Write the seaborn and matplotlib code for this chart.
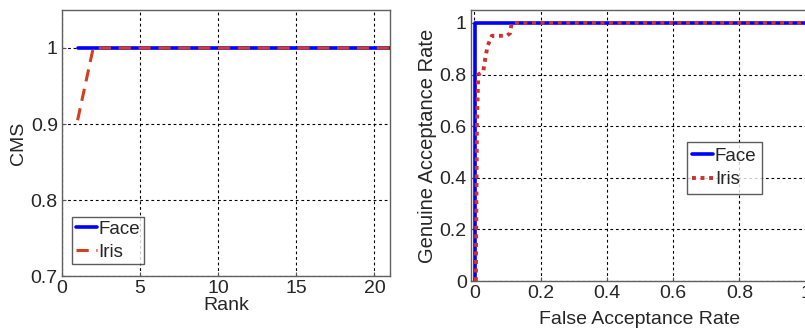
import numpy as np
import pandas as pd
import matplotlib
matplotlib.use("Agg")
import matplotlib.pyplot as plt
import seaborn as sns

# CMS curve (left)
rank = [1, 2, 3, 4, 5, 6, 7, 8, 9, 10, 11, 12, 13, 14, 15, 16, 17, 18, 19, 20, 21]
face_cms = [1.0, 1.0, 1.0, 1.0, 1.0, 1.0, 1.0, 1.0, 1.0, 1.0, 1.0,
            1.0, 1.0, 1.0, 1.0, 1.0, 1.0, 1.0, 1.0, 1.0, 1.0]
iris_cms = [0.905, 1.0, 1.0, 1.0, 1.0, 1.0, 1.0, 1.0, 1.0, 1.0, 1.0,
            1.0, 1.0, 1.0, 1.0, 1.0, 1.0, 1.0, 1.0, 1.0, 1.0]

# ROC curve (right)
face_far = [0.002, 0.002, 1.0]
face_gar = [0.0, 1.0, 1.0]
iris_far = [0.005, 0.008, 0.012, 0.027, 0.033, 0.040, 0.053, 0.098, 0.108, 0.113, 1.0]
iris_gar = [0.0, 0.60, 0.80, 0.81, 0.86, 0.91, 0.95, 0.95, 0.96, 1.0, 1.0]

BLUE = "#0000ff"
RED = "#d2401f"
RED2 = "#d03030"

sns.set_style("ticks")
plt.rcParams['font.family'] = ['Liberation Sans', 'DejaVu Sans']

fig = plt.figure(figsize=(8.05, 3.33), dpi=100)
ax1 = fig.add_axes([0.077, 0.171, 0.4075, 0.799])
ax2 = fig.add_axes([0.585, 0.156, 0.42, 0.814])

grid_kw = dict(color="black", linestyle=(0, (2.5, 2.5)), linewidth=0.8)

# left panel
sns.lineplot(x=rank, y=face_cms, ax=ax1, color=BLUE, lw=2.6, label="Face",
             estimator=None, sort=False)
sns.lineplot(x=rank, y=iris_cms, ax=ax1, color=RED, lw=2.2, label="Iris",
             estimator=None, sort=False, linestyle=(0, (4, 2.5)))
ax1.set_xlim(0, 21)
ax1.set_ylim(0.7, 1.05)
ax1.set_xticks([0, 5, 10, 15, 20])
ax1.set_yticks([0.7, 0.8, 0.9, 1.0])
ax1.set_yticklabels(["0.7", "0.8", "0.9", "1"])
ax1.set_xlabel("Rank", fontsize=14, labelpad=0)
ax1.set_ylabel("CMS", fontsize=14, labelpad=3)
ax1.grid(True, **grid_kw)
leg1 = ax1.legend(loc="lower left", bbox_to_anchor=(0.02, 0.03), fontsize=13.5,
                  handlelength=1.1, handletextpad=0.1, borderpad=0.2,
                  labelspacing=0.3, borderaxespad=0.2, frameon=True, fancybox=False)
leg1.get_frame().set_edgecolor("#333333")
leg1.get_frame().set_linewidth(1.0)

# right panel
sns.lineplot(x=face_far, y=face_gar, ax=ax2, color=BLUE, lw=2.6, label="Face",
             estimator=None, sort=False)
sns.lineplot(x=iris_far, y=iris_gar, ax=ax2, color=RED2, lw=2.8, label="Iris",
             estimator=None, sort=False, linestyle=(0, (1, 1.2)))
ax2.set_xlim(-0.01, 1.01)
ax2.set_ylim(0, 1.05)
ax2.set_xticks([0, 0.2, 0.4, 0.6, 0.8, 1.0])
ax2.set_xticklabels(["0", "0.2", "0.4", "0.6", "0.8", "1"])
ax2.set_yticks([0, 0.2, 0.4, 0.6, 0.8, 1.0])
ax2.set_yticklabels(["0", "0.2", "0.4", "0.6", "0.8", "1"])
ax2.set_xlabel("False Acceptance Rate", fontsize=14, labelpad=6)
ax2.set_ylabel("Genuine Acceptance Rate", fontsize=14.5, labelpad=2)
ax2.grid(True, **grid_kw)
leg2 = ax2.legend(loc="upper left", bbox_to_anchor=(0.638, 0.513), fontsize=13.5,
                  handlelength=1.1, handletextpad=0.1, borderpad=0.3,
                  labelspacing=0.35, borderaxespad=0.0, frameon=True, fancybox=False)
leg2.get_frame().set_edgecolor("#333333")
leg2.get_frame().set_linewidth(1.0)

for ax in (ax1, ax2):
    ax.tick_params(axis="both", labelsize=14, direction="in", length=3,
                   color="#555555")
    ax.tick_params(axis="x", pad=3)
    ax.tick_params(axis="y", pad=3)
    for s in ax.spines.values():
        s.set_color("#606060")
        s.set_linewidth(1.0)

fig.savefig("out.png", dpi=100)
